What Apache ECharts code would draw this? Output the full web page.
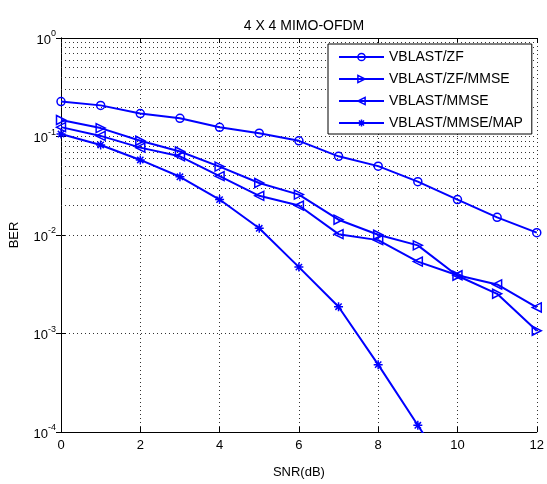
<!DOCTYPE html>
<html>
<head>
<meta charset="utf-8">
<script src="https://cdn.jsdelivr.net/npm/echarts@6/dist/echarts.min.js"></script>
<style>html,body{margin:0;padding:0;background:#fff}#c{width:547px;height:484px}</style>
</head>
<body>
<div id="c"></div>
<script>
var snr = [0, 1, 2, 3, 4, 5, 6, 7, 8, 9, 10, 11, 12];
var berZF = [0.226, 0.207, 0.171, 0.153, 0.124, 0.108, 0.0904, 0.0629, 0.050, 0.0348, 0.0229, 0.0151, 0.01057];
var berZFMMSE = [0.147, 0.1217, 0.0905, 0.0704, 0.0495, 0.0337, 0.0257, 0.0143, 0.01005, 0.00785, 0.00386, 0.00253, 0.001066];
var berMMSE = [0.1245, 0.1014, 0.0771, 0.0629, 0.0396, 0.025, 0.0199, 0.0102, 0.00887, 0.00537, 0.0039, 0.00315, 0.00184];
var berMAP = [0.106, 0.082, 0.0578, 0.039, 0.0229, 0.0117, 0.00472, 0.00187, 0.000483, 0.000117, 0.000028];
var seriesNames = ['VBLAST/ZF', 'VBLAST/ZF/MMSE', 'VBLAST/MMSE', 'VBLAST/MMSE/MAP'];
var xTickLabels = ['0', '2', '4', '6', '8', '10', '12'];
var yDecades = [-4, -3, -2, -1, 0];

var minorVals = [];
for (var d = 0; d < yDecades.length - 1; d++) {
  for (var m = 2; m <= 9; m++) minorVals.push(m * Math.pow(10, yDecades[d]));
}

function pairs(ys) { return ys.map(function (v, i) { return [snr[i], v]; }); }

var BLUE = '#0000ff';
var FONT = 'Liberation Sans, Arial, sans-serif';
var symbols = [
  'circle',
  'path://M0,0 L10,5 L0,10 Z',
  'path://M10,0 L0,5 L10,10 Z',
  'path://M5,0 L5,10 M0,5 L10,5 M1.5,1.5 L8.5,8.5 M8.5,1.5 L1.5,8.5'
];
var dataSets = [berZF, berZFMMSE, berMMSE, berMAP];
var hollow = { color: 'rgba(0,0,0,0)', borderColor: BLUE, borderWidth: 1.5 };

var series = dataSets.map(function (ys, i) {
  return {
    name: seriesNames[i],
    type: 'line',
    data: pairs(ys),
    symbol: symbols[i],
    symbolSize: i === 0 ? 8 : 9,
    showAllSymbol: true,
    clip: true,
    lineStyle: { color: BLUE, width: 2 },
    itemStyle: hollow,
    emphasis: { disabled: true },
    z: 5
  };
});
series[0].markLine = {
  silent: true,
  symbol: 'none',
  label: { show: false },
  lineStyle: { type: [1, 3], color: '#333', width: 1 },
  data: minorVals.map(function (v) { return { yAxis: v }; }),
  z: 1
};

var axisLineStyle = { show: true, lineStyle: { color: '#000', width: 1 } };
var option = {
  animation: false,
  backgroundColor: '#fff',
  title: {
    text: '4 X 4 MIMO-OFDM',
    left: 299, top: 14, textAlign: 'center',
    textStyle: { fontFamily: FONT, fontSize: 14, fontWeight: 'normal', color: '#000' }
  },
  grid: { left: 59, top: 38, width: 481, height: 404 },
  legend: {
    left: 328, top: 44,
    orient: 'vertical',
    itemWidth: 45, itemHeight: 9, itemGap: 8,
    padding: [6, 9, 4, 10],
    backgroundColor: '#fff',
    borderColor: '#000', borderWidth: 1,
    textStyle: { fontFamily: FONT, fontSize: 14, color: '#000' },
    data: seriesNames.map(function (n) { return { name: n, itemStyle: hollow }; })
  },
  xAxis: [{
    type: 'value', min: 0, max: 12, interval: 2,
    name: 'SNR(dB)', nameLocation: 'middle', nameGap: 34,
    nameTextStyle: { fontFamily: FONT, fontSize: 13, color: '#000' },
    axisLine: axisLineStyle,
    axisTick: { inside: true, length: 5, lineStyle: { color: '#000' } },
    axisLabel: { fontFamily: FONT, fontSize: 13, color: '#000', margin: 7,
      formatter: function (v) { return xTickLabels[Math.round(v / 2)]; } },
    splitLine: { show: true, lineStyle: { type: [1, 3], color: '#333', width: 1 } }
  }, {
    type: 'value', min: 0, max: 12, interval: 2, position: 'top',
    axisLine: axisLineStyle,
    axisTick: { inside: true, length: 5, lineStyle: { color: '#000' } },
    axisLabel: { show: false }, splitLine: { show: false }
  }],
  yAxis: [{
    type: 'log', logBase: 10, min: 1e-4, max: 1,
    name: 'BER', nameLocation: 'middle', nameGap: 40,
    nameTextStyle: { fontFamily: FONT, fontSize: 13, color: '#000' },
    axisLine: axisLineStyle,
    axisTick: { inside: true, length: 5, lineStyle: { color: '#000' } },
    axisLabel: {
      margin: 5,
      formatter: function (v) {
        var e = Math.round(Math.log(v) / Math.LN10);
        return '{b|10}{e|' + e + '}';
      },
      rich: {
        b: { fontFamily: FONT, fontSize: 13, color: '#000', padding: [4, 0, 0, 0] },
        e: { fontFamily: FONT, fontSize: 9, color: '#000', padding: [0, 0, 8, 0] }
      }
    },
    splitLine: { show: true, lineStyle: { type: [1, 3], color: '#333', width: 1 } }
  }, {
    type: 'log', logBase: 10, min: 1e-4, max: 1, position: 'right',
    axisLine: axisLineStyle,
    axisTick: { inside: true, length: 5, lineStyle: { color: '#000' } },
    axisLabel: { show: false }, splitLine: { show: false }
  }],
  series: series
};
var chart = echarts.init(document.getElementById('c'), null, { renderer: 'canvas' });
chart.setOption(option);
</script>
</body>
</html>
